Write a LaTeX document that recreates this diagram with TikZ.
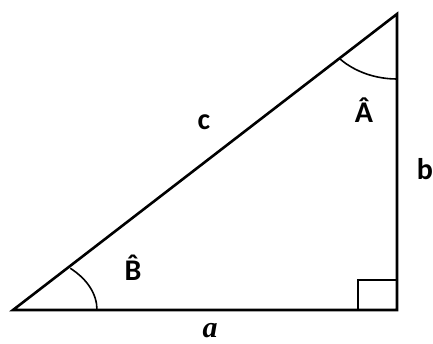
\documentclass[tikz,border=0pt]{standalone}
\usepackage{fontspec}
\setmainfont{Carlito}
\newfontfamily\serifbi{Liberation Serif}
\begin{document}
\begin{tikzpicture}[x=1pt,y=-1pt,
  side/.style={line width=2.6pt,line join=miter},
  anglearc/.style={line width=1.6pt},
  lbl/.style={font=\fontsize{30}{30}\selectfont\bfseries,inner sep=0pt}]
\useasboundingbox (0,0) rectangle (433,344);
\coordinate (B) at (13,310);
\coordinate (C) at (397,310);
\coordinate (A) at (397,14);
\draw[side] (B) -- (C) -- (A) -- cycle;
% right angle
\draw[anglearc] ([xshift=-39pt]C) -- ++(0,-30) -- ++(39,0);
% angle at B
\draw[anglearc] ([xshift=84pt]B) arc[start angle=0,end angle=-47,x radius=84,y radius=57];
% angle at A
\draw[anglearc] ([yshift=-65pt]A) arc[start angle=90,end angle=136,x radius=79,y radius=65];
\node[lbl] (lc) at (204,122) {c};
\node[lbl] (lb) at (425,169) {b};
\node[lbl] (lA) at (364,110) {Â};
\node[lbl] (lB) at (133,268) {\accent"02C6 B};
\node[inner sep=0pt,font=\fontsize{30}{30}\selectfont\serifbi\bfseries\itshape] (la) at (210,331) {a};
\end{tikzpicture}
\end{document}
